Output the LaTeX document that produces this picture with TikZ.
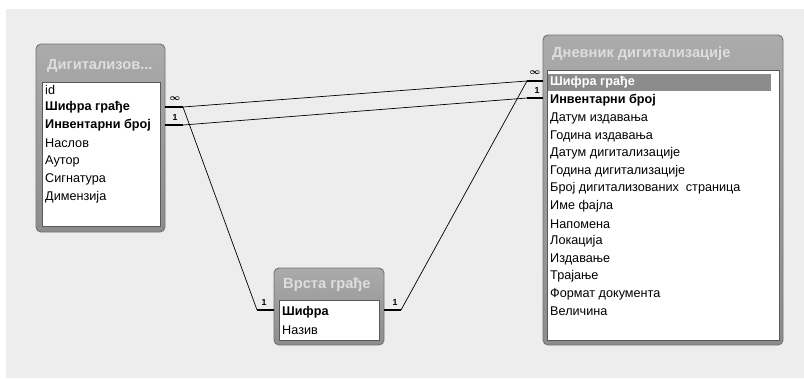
\documentclass[tikz,border=0pt]{standalone}
\usepackage{amsmath}
\usepackage{fontspec}
\setmainfont{Liberation Sans}

\begin{document}
\begin{tikzpicture}[x=0.3mm,y=-0.3mm,
  tbl/.style={draw=black!55,line width=0.8pt,rounded corners=1.5mm,top color=black!33,bottom color=black!45},
  pane/.style={draw=black!65,fill=white,line width=0.6pt},
  title/.style={anchor=west,inner sep=0pt,text=black!13,font=\fontsize{12.5}{14}\selectfont\bfseries},
  fld/.style={anchor=west,inner sep=0pt,font=\fontsize{10.8}{12}\selectfont},
  key/.style={fld,font=\fontsize{10.8}{12}\selectfont\bfseries},
  stub/.style={line width=2pt},
  rel/.style={line width=0.6pt},
  card/.style={inner sep=0pt,font=\fontsize{7.5}{8}\selectfont\bfseries}]
\useasboundingbox[fill=white] (0,0) rectangle (804,378);
\fill[black!7] (6,9) rectangle (804,378);

% Digitalizovana gradja
\draw[tbl] (36,44) rectangle (165,232);
\draw[pane] (42,82) rectangle (160,226);
\node[title] (dtitle) at (47,66) {Дигитализов...};
\node[fld] (did) at (45,90) {id};
\node[key] (dsif) at (45,107) {Шифра грађе};
\node[key] (dinv) at (45,125) {Инвентарни број};
\node[fld] (dnas) at (45,143) {Наслов};
\node[fld] (daut) at (45,161) {Аутор};
\node[fld] (dsig) at (45,179) {Сигнатура};
\node[fld] (ddim) at (45,197) {Димензија};

% Vrsta gradje
\draw[tbl] (274,268) rectangle (384,345);
\draw[pane] (279,300) rectangle (379,340);
\node[title] (vtitle) at (283,285) {Врста грађе};
\node[key] (vsif) at (282,312) {Шифра};
\node[fld] (vnaz) at (282,330) {Назив};

% Dnevnik digitalizacije
\draw[tbl] (543,35) rectangle (783,345);
\draw[pane] (547,70) rectangle (779,340);
\fill[black!45] (548,74) rectangle (771,91);
\node[title] (ntitle) at (552,54) {Дневник дигитализације};
\node[key,text=white] (nsif) at (550,82) {Шифра грађе};
\node[key] (ninv) at (550,100) {Инвентарни број};
\node[fld] (n3) at (550,118) {Датум издавања};
\node[fld] (n4) at (550,136) {Година издавања};
\node[fld] (n5) at (550,153) {Датум дигитализације};
\node[fld] (n6) at (550,171) {Година дигитализације};
\node[fld] (n7) at (550,188) {Број дигитализованих\ \ страница};
\node[fld] (n8) at (550,206) {Име фајла};
\node[fld] (n9) at (550,224) {Напомена};
\node[fld] (n10) at (550,241) {Локација};
\node[fld] (n11) at (550,259) {Издавање};
\node[fld] (n12) at (550,276) {Трајање};
\node[fld] (n13) at (550,294) {Формат документа};
\node[fld] (n14) at (550,311) {Величина};

% stub ends
\coordinate (d1a) at (165,107);
\coordinate (d1b) at (183,107);
\coordinate (d2a) at (165,125);
\coordinate (d2b) at (183,125);
\coordinate (n1a) at (543,81);
\coordinate (n1b) at (527,81);
\coordinate (n2a) at (543,98);
\coordinate (n2b) at (527,98);
\coordinate (v1a) at (274,310);
\coordinate (v1b) at (257,310);
\coordinate (v2a) at (384,310);
\coordinate (v2b) at (401,310);

\draw[stub] (d1a)--(d1b);
\draw[stub] (d2a)--(d2b);
\draw[stub] (n1a)--(n1b);
\draw[stub] (n2a)--(n2b);
\draw[stub] (v1a)--(v1b);
\draw[stub] (v2a)--(v2b);
\draw[rel] (d1b)--(n1b);
\draw[rel] (d2b)--(n2b);
\draw[rel] (d1b)--(v1b);
\draw[rel] (v2b)--(n1b);

\node[card] (c1) at (175,99) {$\boldsymbol{\infty}$};
\node[card] (c2) at (175,117) {1};
\node[card] (c3) at (535,73) {$\boldsymbol{\infty}$};
\node[card] (c4) at (537,90) {1};
\node[card] (c5) at (264,302) {1};
\node[card] (c6) at (395,302) {1};
\end{tikzpicture}
\end{document}
